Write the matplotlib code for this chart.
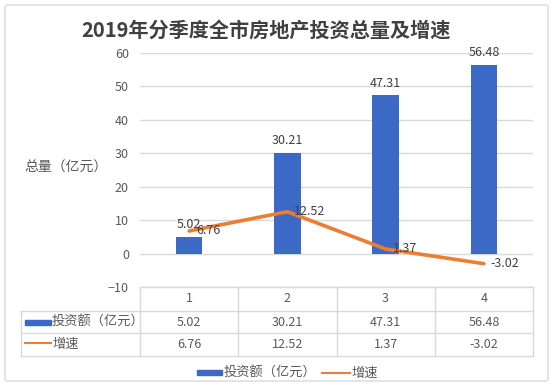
import matplotlib
matplotlib.use("Agg")
import matplotlib.pyplot as plt
import matplotlib.transforms as mtransforms
from matplotlib.patches import FancyBboxPatch, Rectangle
from matplotlib.lines import Line2D

plt.rcParams['font.family'] = ['Noto Sans CJK SC', 'DejaVu Sans']

title = "2019年分季度全市房地产投资总量及增速"
categories = ["1", "2", "3", "4"]
invest = [5.02, 30.21, 47.31, 56.48]
growth = [6.76, 12.52, 1.37, -3.02]
invest_name = "投资额（亿元）"
growth_name = "增速"
ylabel = "总量（亿元）"
yticks = [-10, 0, 10, 20, 30, 40, 50, 60]

W, H = 554, 385
fig = plt.figure(figsize=(W / 100, H / 100), dpi=100)

def fx(px):
    return px / W

def fy(py):
    return 1 - py / H

# outer border
fig.patches.append(FancyBboxPatch((fx(5), fy(381)), fx(543), 376 / H,
                                  boxstyle="round,pad=0,rounding_size=0.005",
                                  transform=fig.transFigure, fill=False,
                                  edgecolor="#D9D9D9", linewidth=1))

ax = fig.add_axes([fx(140), fy(287), fx(533) - fx(140), fy(53) - fy(287)])
x = list(range(len(categories)))
ax.set_xlim(-0.5, len(categories) - 0.5)
ax.set_ylim(yticks[0], yticks[-1])
ax.set_yticks(yticks)
ax.yaxis.grid(True, color="#D9D9D9", linewidth=1)
ax.set_axisbelow(True)
for s in ax.spines.values():
    s.set_visible(False)
ax.tick_params(axis="y", length=0, pad=8, labelsize=9, labelcolor="#595959")
ax.set_xticks([])

blue = "#3C69C6"
orange = "#ED7D31"
ax.bar(x, invest, width=0.27, color=blue, zorder=2)
ax.plot(x, growth, color=orange, linewidth=2.6, zorder=3, solid_capstyle="round")

for xi, v in zip(x, invest):
    ax.annotate(f"{v:.2f}", (xi, v), xytext=(0, 4), textcoords="offset points",
                ha="center", va="bottom", fontsize=9, color="#404040", zorder=4)
for xi, v in zip(x, growth):
    ax.annotate(f"{v:.2f}", (xi, v), xytext=(5, 0), textcoords="offset points",
                ha="left", va="center", fontsize=9, color="#404040", zorder=4)

fig.text(fx(66), fy(168), ylabel, ha="center", va="center", fontsize=10, color="#595959")
fig.text(fx(266), fy(30), title, ha="center", va="center", fontsize=14.5,
         fontweight="bold", color="#404040")

# data table below the axes
trans = mtransforms.blended_transform_factory(ax.transData, fig.transFigure)
lc = "#D9D9D9"
ytop, yr1, yr2, yr3 = fy(287), fy(311), fy(333), fy(356)
n = len(categories)
for b in range(n + 1):
    fig.lines.append(Line2D([b - 0.5, b - 0.5], [ytop, yr3], transform=trans, color=lc, lw=1))
fig.lines.append(Line2D([-0.5, n - 0.5], [ytop, ytop], transform=trans, color=lc, lw=1))
for yy in (yr1, yr2, yr3):
    fig.lines.append(Line2D([fx(21), fx(533)], [yy, yy], transform=fig.transFigure, color=lc, lw=1))
fig.lines.append(Line2D([fx(21), fx(21)], [yr1, yr3], transform=fig.transFigure, color=lc, lw=1))

tc = "#595959"
for xi, c, a, g in zip(x, categories, invest, growth):
    fig.text(0, (ytop + yr1) / 2, c, transform=trans, ha="center", va="center",
             fontsize=9, color=tc).set_x(xi)
    fig.text(0, (yr1 + yr2) / 2, f"{a:.2f}", transform=trans, ha="center", va="center",
             fontsize=9, color=tc).set_x(xi)
    fig.text(0, (yr2 + yr3) / 2, f"{g:.2f}", transform=trans, ha="center", va="center",
             fontsize=9, color=tc).set_x(xi)

# row labels with keys
fig.patches.append(Rectangle((fx(25), fy(324.5)), fx(26), 5 / H, transform=fig.transFigure,
                             color=blue))
fig.text(fx(52), (yr1 + yr2) / 2, invest_name, ha="left", va="center", fontsize=9.5, color=tc)
fig.lines.append(Line2D([fx(25), fx(51)], [fy(343), fy(343)], transform=fig.transFigure,
                        color=orange, lw=1.5))
fig.text(fx(52), (yr2 + yr3) / 2, growth_name, ha="left", va="center", fontsize=9.5, color=tc)

# legend at bottom
fig.patches.append(Rectangle((fx(197), fy(375)), fx(25), 5 / H, transform=fig.transFigure,
                             color=blue))
fig.text(fx(224), fy(373), invest_name, ha="left", va="center", fontsize=9.5, color=tc)
fig.lines.append(Line2D([fx(322), fx(350)], [fy(373), fy(373)], transform=fig.transFigure,
                        color=orange, lw=1.5))
fig.text(fx(351), fy(373), growth_name, ha="left", va="center", fontsize=9.5, color=tc)

fig.savefig("out.png", dpi=100)
